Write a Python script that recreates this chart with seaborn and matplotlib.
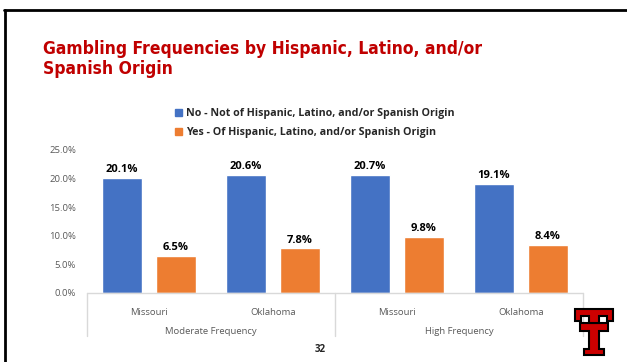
import matplotlib
matplotlib.use("Agg")
import matplotlib.pyplot as plt
import seaborn as sns
import pandas as pd
from matplotlib.patches import Polygon, Rectangle
from matplotlib.lines import Line2D

# ---- data ----
frequency_groups = ["Moderate Frequency", "High Frequency"]
states = ["Missouri", "Oklahoma", "Missouri", "Oklahoma"]
group_of_state = ["Moderate Frequency", "Moderate Frequency", "High Frequency", "High Frequency"]
series_names = ["No - Not of Hispanic, Latino, and/or Spanish Origin",
                "Yes - Of Hispanic, Latino, and/or Spanish Origin"]
no_values = [20.1, 20.6, 20.7, 19.1]
yes_values = [6.5, 7.8, 9.8, 8.4]
y_ticks = [0, 5, 10, 15, 20, 25]
colors = ["#4472C4", "#ED7D31"]

W, H = 627, 362
sns.set_theme(style="white")
plt.rcParams['font.family'] = ['Open Sans', 'DejaVu Sans']

cats = [f"{g}|{s}" for g, s in zip(group_of_state, states)]
rows = []
for c, v in zip(cats, no_values):
    rows.append({"cat": c, "series": series_names[0], "value": v})
for c, v in zip(cats, yes_values):
    rows.append({"cat": c, "series": series_names[1], "value": v})
df = pd.DataFrame(rows)

fig = plt.figure(figsize=(W / 100, H / 100), dpi=100)
fig.patch.set_facecolor("white")

def fx(x):
    return x / W

def fy(y):
    return 1 - y / H

ax_left, ax_right, ax_top, ax_bot = 87, 583, 150, 293
ax = fig.add_axes([fx(ax_left), fy(ax_bot), (ax_right - ax_left) / W, (ax_bot - ax_top) / H])
sns.barplot(data=df, x="cat", y="value", hue="series", order=cats, hue_order=series_names,
            palette=colors, width=0.871, gap=0.265, ax=ax, legend=False, saturation=1)
ax.set_xlim(-0.5, 3.5)
ax.set_ylim(0, 25)
ax.set_yticks(y_ticks)
ax.set_yticklabels([f"{t:.1f}%" for t in y_ticks], fontsize=6.8, color="#595959")
ax.set_xticks(range(4))
ax.set_xticklabels(states, fontsize=6.8, color="#595959")
ax.tick_params(axis="y", length=0, pad=8)
ax.tick_params(axis="x", length=0, pad=11)
ax.set_xlabel("")
ax.set_ylabel("")
for s in ax.spines.values():
    s.set_visible(False)
ax.set_facecolor("none")

for cont in ax.containers:
    vals = [b.get_height() for b in cont]
    ax.bar_label(cont, labels=[f"{v:.1f}%" for v in vals], padding=2,
                 fontsize=8, fontweight="bold", color="#000000")

# axis line and separators
lc = "#D9D9D9"
span = ax_bot - ax_top
depth = (336 - ax_bot) / span
ax.plot([0, 1], [0, 0], transform=ax.transAxes, color=lc, lw=1, clip_on=False)
for xs in [0, 0.5, 1.0]:
    ax.plot([xs, xs], [0, -depth], transform=ax.transAxes, color=lc, lw=1, clip_on=False)
for i, g in enumerate(frequency_groups):
    ax.text(0.25 + 0.5 * i, -(331 - ax_bot) / span, g, transform=ax.transAxes,
            ha="center", va="center", fontsize=6.8, color="#595959")

# legend
handles = [Rectangle((0, 0), 1, 1, color=c) for c in colors]
fig.legend(handles, series_names, loc="upper left", bbox_to_anchor=(fx(175), fy(108)),
           frameon=False, prop={"weight": "bold", "size": 7.7},
           handlelength=0.7, handleheight=0.7, handletextpad=0.35, labelspacing=0.75,
           borderpad=0, borderaxespad=0)

# title
fig.text(fx(43), fy(40), "Gambling Frequencies by Hispanic, Latino, and/or\nSpanish Origin",
         color="#C00000", fontsize=12.5, fontweight="bold", va="top", ha="left",
         family=["DejaVu Sans"], fontstretch="condensed", linespacing=1.12)

# page number
fig.text(fx(320), fy(350), "32", fontsize=7, fontweight="bold", ha="center", va="center")

# slide border
fig.add_artist(Line2D([fx(4), fx(627)], [fy(10), fy(10)], color="black", lw=2, transform=fig.transFigure))
fig.add_artist(Line2D([fx(5), fx(5)], [fy(10), fy(362)], color="black", lw=2, transform=fig.transFigure))

# logo (simple double T)
def poly(pts, fc, ec, lw):
    p = Polygon([(fx(x), fy(y)) for x, y in pts], closed=True, facecolor=fc, edgecolor=ec,
                lw=lw, transform=fig.transFigure)
    fig.add_artist(p)

lower = [(580, 323), (608, 323), (608, 331), (599, 331), (599, 349), (604, 349), (604, 355),
         (584, 355), (584, 349), (589, 349), (589, 331), (580, 331)]
upper = [(575, 309), (613, 309), (613, 321), (607, 321), (607, 316), (599, 316), (599, 323),
         (589, 323), (589, 316), (581, 316), (581, 321), (575, 321)]
poly(lower, "#CC0000", "black", 1.5)
poly(upper, "#CC0000", "black", 1.5)

fig.savefig("out.png", dpi=100)
